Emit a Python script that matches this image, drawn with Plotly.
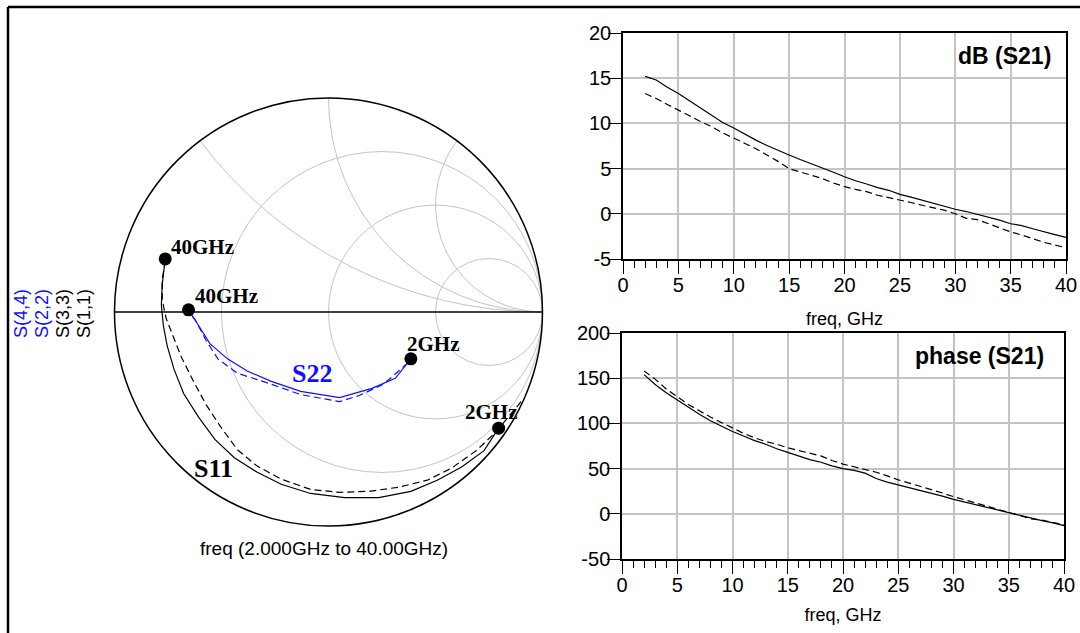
import numpy as np
import plotly.graph_objects as go

# ---------------- data ----------------
freq = list(range(2, 41))
db_s21_a = [15.2, 14.8, 14.0, 13.3, 12.5, 11.7, 10.9, 10.1, 9.5, 8.8, 8.15, 7.55, 7.0, 6.5,
            6.0, 5.55, 5.05, 4.6, 4.1, 3.65, 3.3, 2.9, 2.6, 2.15, 1.85, 1.5, 1.2, 0.85, 0.5,
            0.25, -0.05, -0.4, -0.7, -1.1, -1.3, -1.65, -2.0, -2.3, -2.6]
db_s21_b = [13.3, 12.75, 12.1, 11.5, 10.85, 10.2, 9.65, 8.95, 8.35, 7.8, 7.2, 6.5, 5.8, 5.0,
            4.65, 4.3, 3.9, 3.4, 3.0, 2.7, 2.45, 2.05, 1.8, 1.55, 1.25, 0.95, 0.7, 0.4, 0.0,
            -0.5, -0.65, -1.1, -1.55, -2.0, -2.35, -2.75, -3.15, -3.45, -3.75]
ph_s21_a = [154, 143, 134, 126, 118, 110, 103, 97, 91, 86, 81, 77, 72, 68, 64, 60, 57, 53,
            50, 48, 45, 39, 35, 32, 28.5, 25.5, 22.5, 19.5, 16, 13, 10, 7, 4.5, 1.5, -2, -5,
            -7.5, -10, -13]
ph_s21_b = [158, 149, 138, 129, 121, 114, 107, 101, 95, 89, 84, 80, 77, 73, 70, 67, 64, 59,
            55, 52, 49, 46, 42, 37.5, 34, 30.5, 27, 23, 19, 15.5, 12, 8, 5, 1.5, -2.5, -5.5,
            -7, -9.5, -12]

# reflection coefficients (2 GHz -> 40 GHz)
s11_re = [0.795, 0.727, 0.622, 0.508, 0.385, 0.235, 0.075, -0.084, -0.221, -0.335, -0.440,
          -0.531, -0.608, -0.677, -0.722, -0.754, -0.772, -0.781, -0.777, -0.763]
s11_im = [-0.543, -0.648, -0.724, -0.786, -0.838, -0.867, -0.867, -0.848, -0.805, -0.748,
          -0.681, -0.595, -0.490, -0.381, -0.267, -0.157, -0.062, 0.033, 0.129, 0.248]
s33_re = [0.900, 0.781, 0.690, 0.576, 0.462, 0.326, 0.189, 0.052, -0.084, -0.221, -0.335,
          -0.426, -0.503, -0.572, -0.631, -0.686, -0.722, -0.759, -0.777, -0.777, -0.763]
s33_im = [-0.419, -0.562, -0.648, -0.729, -0.786, -0.819, -0.838, -0.843, -0.829, -0.781,
          -0.719, -0.643, -0.538, -0.433, -0.324, -0.214, -0.124, -0.029, 0.057, 0.152, 0.238]
s22_re = [0.385, 0.312, 0.203, 0.052, -0.130, -0.267, -0.380, -0.472, -0.554, -0.608, -0.654]
s22_im = [-0.219, -0.310, -0.357, -0.400, -0.371, -0.324, -0.276, -0.219, -0.148, -0.062, 0.010]
s44_re = [0.371, 0.257, 0.144, 0.052, -0.130, -0.280, -0.426, -0.517, -0.572, -0.622, -0.654, -0.686]
s44_im = [-0.238, -0.338, -0.390, -0.419, -0.386, -0.333, -0.286, -0.219, -0.133, -0.038, 0.0, -0.029]
mk_re = [-0.763, -0.654, 0.385, 0.795]
mk_im = [0.248, 0.010, -0.219, -0.543]
mk_text = ["40GHz", "40GHz", "2GHz", "2GHz"]

r_grid = [1 / 3, 1, 3]
x_grid = [0.5, 1, 2]
db_ticks = [-5, 0, 5, 10, 15, 20]
db_labels = ["-5", "0", "5", "10", "15", "20"]
ph_ticks = [-50, 0, 50, 100, 150, 200]
ph_labels = ["-50", "0", "50", "100", "150", "200"]
f_ticks = [0, 5, 10, 15, 20, 25, 30, 35, 40]
f_labels = ["0", "5", "10", "15", "20", "25", "30", "35", "40"]


def to_z(re, im):
    g = np.array(re) + 1j * np.array(im)
    z = (1 + g) / (1 - g)
    return z.real, z.imag


W, H = 1080, 633
SANS = "Arial, Liberation Sans, sans-serif"
SERIF = "Times New Roman, Liberation Serif, serif"
GRID = "#c4c4c4"
BLUE = "#1010ff"

fig = go.Figure()

for re, im, col, dash in [(s11_re, s11_im, "black", "solid"),
                          (s33_re, s33_im, "black", "7px,4px"),
                          (s22_re, s22_im, BLUE, "solid"),
                          (s44_re, s44_im, BLUE, "7px,4px")]:
    zr, zi = to_z(re, im)
    fig.add_trace(go.Scattersmith(real=zr, imag=zi, mode="lines",
                                  line=dict(color=col, width=1.2, dash=dash),
                                  showlegend=False))

zr, zi = to_z(mk_re, mk_im)
fig.add_trace(go.Scattersmith(real=zr, imag=zi, mode="markers",
                              marker=dict(color="black", size=13),
                              showlegend=False))

# right plots
fig.add_trace(go.Scatter(x=freq, y=db_s21_a, mode="lines", line=dict(color="black", width=1.2),
                         xaxis="x", yaxis="y", showlegend=False))
fig.add_trace(go.Scatter(x=freq, y=db_s21_b, mode="lines",
                         line=dict(color="black", width=1.2, dash="7px,4px"),
                         xaxis="x", yaxis="y", showlegend=False))
fig.add_trace(go.Scatter(x=freq, y=ph_s21_a, mode="lines", line=dict(color="black", width=1.2),
                         xaxis="x2", yaxis="y2", showlegend=False))
fig.add_trace(go.Scatter(x=freq, y=ph_s21_b, mode="lines",
                         line=dict(color="black", width=1.2, dash="7px,4px"),
                         xaxis="x2", yaxis="y2", showlegend=False))


def px_x(a, b):
    return [a / W, b / W]


def px_y(top, bottom):
    return [1 - bottom / H, 1 - top / H]


TF = dict(family=SANS, size=20, color="black")


def xax(dom, anchor, title_gap):
    return dict(domain=dom, anchor=anchor, range=[0, 40], tickvals=f_ticks, ticktext=f_labels,
                ticks="outside", ticklen=13, tickwidth=1, tickcolor="black",
                ticklabelstandoff=-6,
                minor=dict(dtick=1, tick0=0, ticks="outside", ticklen=7, tickwidth=1,
                           tickcolor="black", showgrid=False),
                showgrid=True, gridcolor=GRID, gridwidth=1.5,
                showline=True, linecolor="black", linewidth=1.5, mirror=True,
                zeroline=False, tickfont=TF, automargin=False,
                title=dict(text="freq, GHz", font=dict(family=SANS, size=18, color="black"),
                           standoff=title_gap))


def yax(dom, anchor, rng, tv, tt):
    return dict(domain=dom, anchor=anchor, range=rng, tickvals=tv, ticktext=tt,
                ticks="outside", ticklen=13, tickwidth=1, tickcolor="black",
                ticklabelstandoff=-7,
                showgrid=True, gridcolor=GRID, gridwidth=1.5, automargin=False,
                showline=True, linecolor="black", linewidth=1.5, mirror=True,
                zeroline=False, tickfont=TF)


cx, cy, R = 328.5, 312, 214

fig.update_layout(
    width=W, height=H, margin=dict(l=0, r=0, t=0, b=0, autoexpand=False),
    paper_bgcolor="white", plot_bgcolor="white",
    xaxis=xax(px_x(623, 1066), "y", 18),
    yaxis=yax(px_y(33, 259), "x", [-5, 20], db_ticks, db_labels),
    xaxis2=xax(px_x(622, 1064), "y2", 14),
    yaxis2=yax(px_y(333, 559), "x2", [-50, 200], ph_ticks, ph_labels),
    smith=dict(
        domain=dict(x=px_x(cx - R, cx + R), y=px_y(cy - R, cy + R)),
        bgcolor="white",
        realaxis=dict(tickvals=r_grid, showticklabels=False, ticks="", showgrid=True,
                      gridcolor=GRID, gridwidth=1, showline=True, linecolor="black",
                      linewidth=1.3),
        imaginaryaxis=dict(tickvals=x_grid, showticklabels=False, ticks="", showgrid=True,
                           gridcolor=GRID, gridwidth=1, showline=True, linecolor="black",
                           linewidth=1.5),
    ),
    shapes=[dict(type="line", xref="paper", yref="paper", x0=8 / W, x1=1,
                 y0=1 - 7 / H, y1=1 - 7 / H, line=dict(color="black", width=2.5)),
            dict(type="line", xref="paper", yref="paper", x0=8 / W, x1=8 / W,
                 y0=0, y1=1 - 7 / H, line=dict(color="black", width=2.5))],
)


def ann_px(text, x, y, font, xanchor="center", angle=0):
    return dict(text=text, x=x / W, y=1 - y / H, xref="paper", yref="paper",
                showarrow=False, textangle=angle, xanchor=xanchor, yanchor="middle",
                font=font)


ann = []
for txt, xp, col in [("S(4,4)", 21, BLUE), ("S(2,2)", 42, BLUE),
                     ("S(3,3)", 63, "black"), ("S(1,1)", 84, "black")]:
    ann.append(ann_px(txt, xp, 314, dict(family=SANS, size=18, color=col), angle=-90))
ann.append(ann_px("freq (2.000GHz to 40.00GHz)", 324, 548,
                  dict(family=SANS, size=19, color="black")))
ann.append(ann_px("<b>S22</b>", 312, 373, dict(family=SERIF, size=26, color=BLUE)))
ann.append(ann_px("<b>S11</b>", 213, 468, dict(family=SERIF, size=26, color="black")))

# marker labels, placed relative to the marker positions on the chart
lab_off = [(4, -12), (4, -14), (-6, -15), (-36, -16)]
for gx, gy, txt, (dx, dy) in zip(mk_re, mk_im, mk_text, lab_off):
    ann.append(ann_px("<b>" + txt + "</b>", cx + R * gx + dx, cy - R * gy + dy,
                      dict(family=SERIF, size=21, color="black"), xanchor="left"))

ann.append(dict(text="<b>dB (S21)</b>", x=0.97, y=0.9, xref="x domain", yref="y domain",
                xanchor="right", yanchor="middle", showarrow=False,
                font=dict(family=SANS, size=23, color="black")))
ann.append(dict(text="<b>phase (S21)</b>", x=0.96, y=0.9, xref="x2 domain", yref="y2 domain",
                xanchor="right", yanchor="middle", showarrow=False,
                font=dict(family=SANS, size=23, color="black")))
fig.update_layout(annotations=ann)

fig.write_html("out.html", config={"displayModeBar": False},
               post_script="document.body.style.margin='0px';")
